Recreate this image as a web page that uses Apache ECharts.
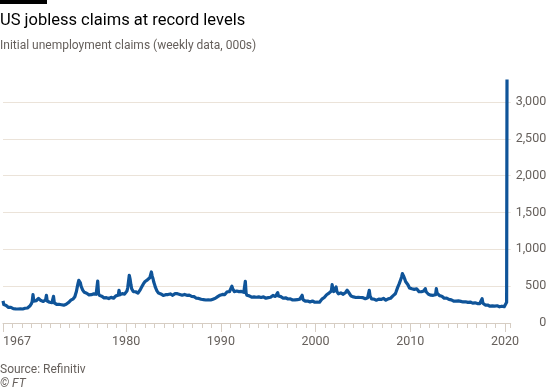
<!DOCTYPE html>
<html>
<head>
<meta charset="utf-8">
<script src="https://cdn.jsdelivr.net/npm/echarts@6/dist/echarts.min.js"></script>
<style>
html,body{margin:0;padding:0;background:#ffffff;}
#chart{width:550px;height:392px;}
</style>
</head>
<body>
<div id="chart"></div>
<script>
// Monthly readings (000s) from the picture, one row per year, Jan..Dec
const startYear = 1967;
const claims1960s = [
  300, 250, 245, 228, 238, 222, 226, 212, 220, 205, 212, 204,
  210, 196, 214, 198, 192, 208, 196, 190, 204, 200, 192, 202,
  198, 190, 206, 196, 200, 194, 212, 204, 218, 216, 230, 240
];
const claims1970s = [
  262, 292, 385, 298, 324, 306, 302, 312, 318, 334, 322, 310,
  304, 288, 304, 292, 296, 298, 314, 376, 298, 300, 286, 282,
  284, 272, 276, 262, 362, 274, 262, 264, 252, 258, 248, 254,
  244, 242, 248, 238, 252, 242, 254, 250, 254, 250, 268, 278,
  292, 298, 310, 306, 324, 328, 344, 356, 394, 428, 484, 536,
  580, 556, 544, 496, 474, 446, 444, 416, 414, 400, 404, 392,
  394, 382, 386, 372, 384, 386, 398, 396, 400, 386, 390, 380,
  570, 404, 376, 374, 362, 364, 352, 354, 342, 354, 342, 344,
  342, 346, 332, 344, 330, 348, 336, 340, 336, 354, 356, 368,
  366, 378, 376, 444, 382, 384, 386, 398, 382, 404, 392, 408
];
const claims1980s = [
  408, 434, 478, 564, 648, 596, 524, 466, 444, 426, 424, 406,
  424, 426, 430, 406, 424, 426, 454, 466, 494, 496, 534, 546,
  564, 566, 584, 586, 584, 596, 614, 626, 693, 636, 604, 556,
  524, 486, 474, 436, 424, 406, 404, 392, 394, 382, 384, 374,
  380, 372, 384, 382, 384, 386, 398, 382, 394, 392, 388, 376,
  388, 386, 398, 386, 390, 398, 398, 386, 388, 386, 398, 378,
  394, 390, 388, 386, 388, 376, 388, 376, 378, 366, 374, 362,
  368, 356, 358, 346, 348, 336, 338, 326, 334, 322, 332, 322,
  324, 320, 318, 316, 314, 312, 313, 306, 313, 302, 313, 312,
  324, 322, 324, 326, 338, 336, 348, 346, 358, 356, 372, 378
];
const claims1990s = [
  384, 366, 388, 386, 384, 386, 404, 406, 424, 420, 424, 426,
  454, 478, 500, 466, 444, 426, 424, 420, 434, 436, 444, 426,
  444, 426, 428, 416, 414, 416, 418, 566, 404, 376, 378, 366,
  368, 356, 358, 350, 354, 350, 354, 342, 354, 350, 348, 336,
  354, 356, 358, 346, 348, 336, 354, 350, 348, 336, 338, 326,
  344, 340, 354, 350, 374, 370, 374, 360, 364, 360, 374, 370,
  412, 366, 368, 356, 358, 346, 348, 336, 338, 342, 342, 332,
  338, 326, 328, 316, 328, 326, 324, 312, 324, 312, 314, 312,
  318, 316, 314, 312, 324, 320, 332, 376, 318, 306, 308, 296,
  308, 296, 298, 296, 298, 286, 298, 286, 298, 286, 288, 282
];
const claims2000s = [
  292, 282, 284, 274, 278, 282, 298, 306, 324, 326, 344, 346,
  364, 366, 384, 392, 408, 406, 418, 416, 434, 520, 454, 426,
  424, 406, 490, 426, 414, 396, 398, 396, 408, 406, 404, 390,
  394, 396, 414, 426, 444, 426, 414, 396, 394, 366, 364, 350,
  354, 350, 348, 346, 348, 346, 348, 336, 348, 346, 348, 336,
  344, 330, 344, 330, 334, 330, 344, 330, 444, 366, 344, 326,
  324, 310, 324, 320, 324, 310, 324, 320, 324, 310, 324, 320,
  324, 320, 334, 320, 324, 310, 314, 316, 328, 326, 338, 336,
  348, 352, 368, 372, 394, 396, 424, 436, 484, 496, 534, 557,
  594, 626, 670, 646, 624, 596, 564, 556, 544, 520, 504, 476
];
const claims2010s = [
  474, 476, 464, 456, 464, 456, 454, 476, 464, 446, 444, 426,
  434, 416, 424, 416, 434, 436, 434, 466, 424, 406, 404, 390,
  394, 376, 378, 376, 388, 376, 384, 370, 384, 466, 404, 386,
  388, 372, 374, 356, 364, 350, 354, 336, 334, 336, 338, 326,
  334, 320, 324, 310, 314, 306, 308, 296, 304, 290, 298, 296,
  304, 300, 304, 290, 294, 286, 288, 286, 288, 286, 288, 286,
  294, 280, 284, 280, 284, 274, 284, 270, 282, 270, 274, 268,
  274, 264, 268, 258, 264, 254, 264, 330, 268, 250, 254, 244,
  248, 238, 244, 234, 238, 228, 234, 228, 232, 226, 236, 230,
  236, 230, 234, 224, 230, 220, 232, 222, 228, 222, 228, 222
];
// Weekly readings at the start of 2020 (decimal year, 000s)
const weeks2020 = [2020.00, 2020.06, 2020.12, 2020.17, 2020.21];
const claims2020 = [222, 214, 216, 282, 3307];

const yTicks = [0, 500, 1000, 1500, 2000, 2500, 3000];
const xLabelYears = [1967, 1980, 1990, 2000, 2010, 2020];

const monthly = [].concat(claims1960s, claims1970s, claims1980s, claims1990s, claims2000s, claims2010s);
const seriesData = monthly.map((v, i) => [startYear + i / 12, v]);
weeks2020.forEach((t, i) => seriesData.push([t, claims2020[i]]));

const grey = '#66605c';
const font = 'Roboto, "Noto Sans", sans-serif';
const chart = echarts.init(document.getElementById('chart'), null, {renderer: 'canvas'});
chart.setOption({
  backgroundColor: '#ffffff',
  animation: false,
  grid: {left: 1.5, right: 39.3, top: 102, bottom: 69, containLabel: false},
  xAxis: [{
    type: 'value', min: 1967, max: 2020.6, interval: 1,
    axisLine: {show: true, lineStyle: {color: '#d6cdc3', width: 1}},
    axisTick: {show: true, length: 5, lineStyle: {color: '#d6cdc3'}},
    axisLabel: {show: false},
    splitLine: {show: false}
  }, {
    type: 'value', min: 1967, max: 2020.6, position: 'bottom',
    axisLine: {show: false},
    axisTick: {show: true, length: 9, customValues: xLabelYears, lineStyle: {color: '#d6cdc3'}},
    axisLabel: {show: true, customValues: xLabelYears, color: grey, fontSize: 12.5, fontFamily: font,
      margin: 12, alignMinLabel: 'left', formatter: v => String(v)},
    splitLine: {show: false}
  }],
  yAxis: {
    type: 'value', min: 0, max: 3000, interval: 500, position: 'right',
    axisLine: {show: false}, axisTick: {show: false},
    axisLabel: {color: grey, fontSize: 12.5, fontFamily: font, align: 'right', margin: 35.5,
      formatter: v => yTicks.indexOf(v) >= 0 ? v.toLocaleString('en-US') : ''},
    splitLine: {lineStyle: {color: '#ebe3d9', width: 1}}
  },
  series: [{
    type: 'line', xAxisIndex: 0, data: seriesData, showSymbol: false, clip: false,
    lineStyle: {color: '#0f5499', width: 3.2, join: 'round'}, itemStyle: {color: '#0f5499'}
  }],
  graphic: [
    {type: 'rect', left: 0, top: 0, shape: {width: 47, height: 4}, style: {fill: '#000000'}},
    {type: 'text', x: 0, y: 21, style: {text: 'US jobless claims at record levels', font: '16.5px ' + font, fill: '#000000', verticalAlign: 'middle'}},
    {type: 'text', x: 0, y: 46, style: {text: 'Initial unemployment claims (weekly data, 000s)', font: '12px ' + font, fill: grey, verticalAlign: 'middle'}},
    {type: 'text', x: 0, y: 370, style: {text: 'Source: Refinitiv', font: '12px ' + font, fill: grey, verticalAlign: 'middle'}},
    {type: 'text', x: 0, y: 384, style: {text: '© FT', font: 'italic 12px ' + font, fill: grey, verticalAlign: 'middle'}}
  ]
});
</script>
</body>
</html>
